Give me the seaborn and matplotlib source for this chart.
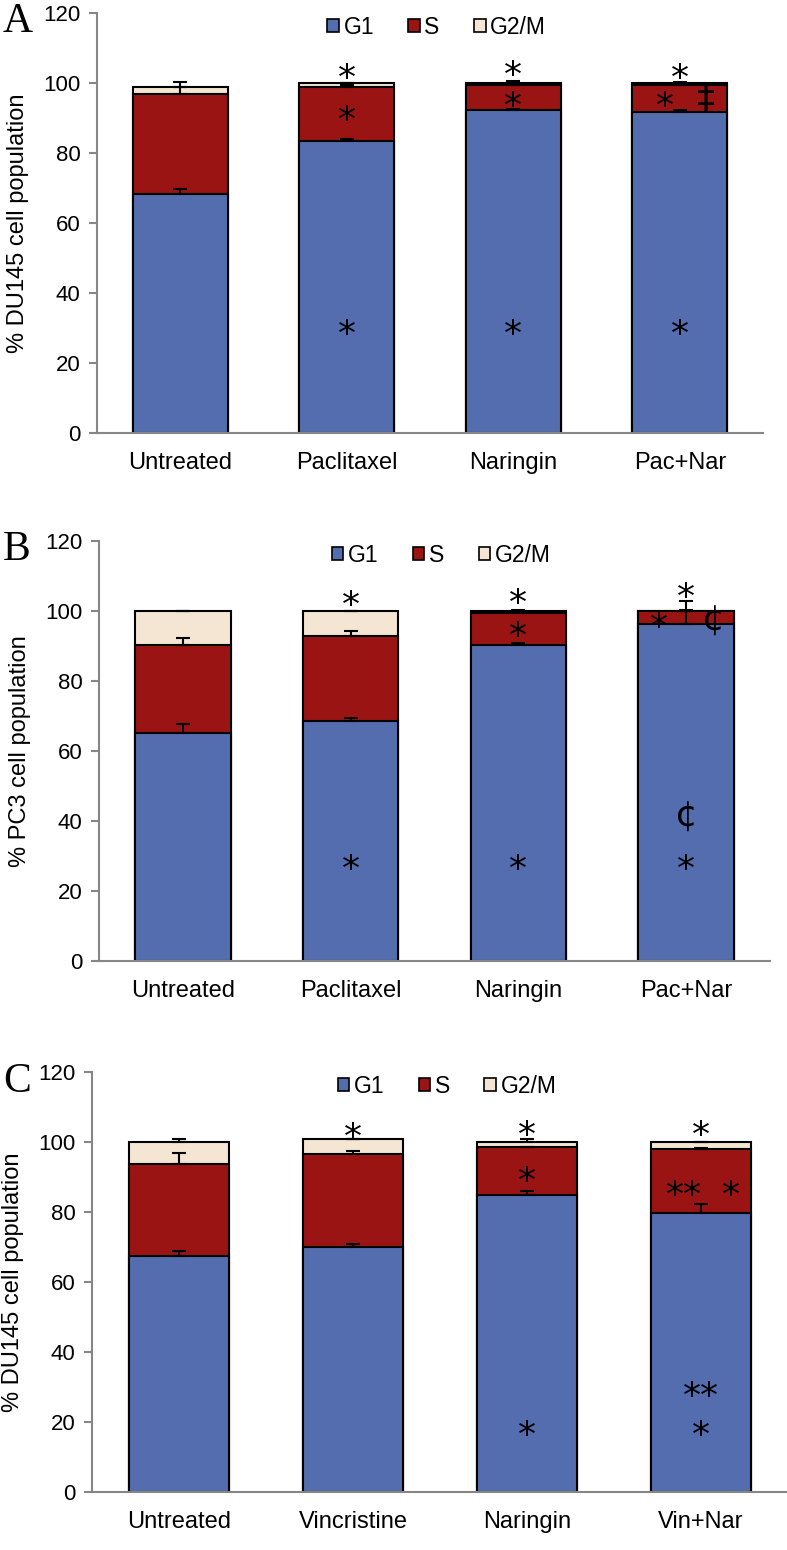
import pandas as pd
import matplotlib
matplotlib.use("Agg")
import matplotlib.pyplot as plt
from matplotlib.patches import Patch
from matplotlib.transforms import offset_copy
import seaborn as sns

sns.set_style("white")
plt.rcParams["font.family"] = ["Liberation Sans", "DejaVu Sans"]
plt.rcParams["text.color"] = "black"
plt.rcParams["axes.labelcolor"] = "black"
plt.rcParams["xtick.color"] = "black"
plt.rcParams["ytick.color"] = "black"

# phases and colours
phases = ["G1", "S", "G2/M"]
colors = ["#546DAE", "#9B1414", "#F5E6D4"]

# Panel A - DU145, paclitaxel
cats_a = ["Untreated", "Paclitaxel", "Naringin", "Pac+Nar"]
g1_a = [68.3, 83.3, 92.2, 91.6]
s_a = [28.5, 15.5, 7.2, 7.8]
g2m_a = [2.1, 1.2, 0.6, 0.6]
err_g1_a = [1.3, 0.6, 0.5, 0.6]
err_s_a = [3.5, 0.5, 0.4, 0.3]
err_g2m_a = [0.0, 0.0, 0.5, 0.3]

# Panel B - PC3, paclitaxel
cats_b = ["Untreated", "Paclitaxel", "Naringin", "Pac+Nar"]
g1_b = [65.2, 68.5, 90.4, 96.2]
s_b = [25.2, 24.4, 8.9, 3.7]
g2m_b = [9.6, 7.1, 0.7, 0.1]
err_g1_b = [2.5, 1.0, 0.5, 6.6]
err_s_b = [2.0, 1.4, 0.5, 0.3]
err_g2m_b = [0.0, 0.0, 0.3, 0.0]

# Panel C - DU145, vincristine
cats_c = ["Untreated", "Vincristine", "Naringin", "Vin+Nar"]
g1_c = [67.5, 70.0, 85.0, 79.8]
s_c = [26.1, 26.7, 13.6, 18.1]
g2m_c = [6.4, 4.1, 1.4, 2.1]
err_g1_c = [1.5, 1.0, 1.1, 2.4]
err_s_c = [3.2, 0.6, 0.0, 0.5]
err_g2m_c = [0.8, 0.0, 0.8, 0.0]

# significance marks: (bar index, shift, y, symbol)
marks_a = [(1, 0, 104, "*"), (1, 0, 92, "*"), (1, 0, 31, "*"),
           (2, 0, 105, "*"), (2, 0, 96, "*"), (2, 0, 31, "*"),
           (3, 0, 104, "*"), (3, -0.09, 96, "*"), (3, 0.16, 96, "‡"), (3, 0, 31, "*")]
marks_b = [(1, 0, 104.3, "*"), (1, 0, 29, "*"),
           (2, 0, 105, "*"), (2, 0, 95.5, "*"), (2, 0, 29, "*"),
           (3, 0, 106.5, "*"), (3, -0.16, 98, "*"), (3, 0.16, 97.5, "¢"),
           (3, 0, 41.5, "¢"), (3, 0, 29, "*")]
marks_c = [(1, 0, 104, "*"),
           (2, 0, 104.5, "*"), (2, 0, 91.5, "*"), (2, 0, 19, "*"),
           (3, 0, 104.5, "*"), (3, -0.1, 87.5, "**"), (3, 0.17, 87.5, "*"),
           (3, 0, 30, "**"), (3, 0, 19, "*")]

panels = [
    ("A", "% DU145 cell population", cats_a, g1_a, s_a, g2m_a,
     err_g1_a, err_s_a, err_g2m_a, marks_a, [97, 433, 763]),
    ("B", "% PC3 cell population", cats_b, g1_b, s_b, g2m_b,
     err_g1_b, err_s_b, err_g2m_b, marks_b, [99, 961, 770]),
    ("C", "% DU145 cell population", cats_c, g1_c, s_c, g2m_c,
     err_g1_c, err_s_c, err_g2m_c, marks_c, [92, 1492, 788]),
]

W, H = 787, 1550
fig = plt.figure(figsize=(W / 100, H / 100), dpi=100)

sym_shift = {"*": 0.56, "**": 0.56, "‡": 0.32, "¢": 0.30}

for letter, ylabel, cats, g1, s, g2m, e1, e2, e3, marks, box in panels:
    left, bottom, right = box
    ax = fig.add_axes([left / W, 1 - bottom / H, (right - left) / W, 420 / H])

    df = pd.DataFrame({"cat": cats, "G1": g1, "S": s, "G2/M": g2m})
    df["top_s"] = df["G1"] + df["S"]
    df["top"] = df["top_s"] + df["G2/M"]

    # stacked bars: draw the cumulative heights from the tallest down
    for col, c in [("top", colors[2]), ("top_s", colors[1]), ("G1", colors[0])]:
        sns.barplot(data=df, x="cat", y=col, color=c, saturation=1,
                    edgecolor="black", linewidth=1.5, width=0.57,
                    errorbar=None, ax=ax)

    xs = list(range(len(cats)))
    for ytop, err in [(df["G1"], e1), (df["top_s"], e2), (df["top"], e3)]:
        ax.errorbar(xs, ytop, yerr=[[0] * len(err), err], fmt="none",
                    ecolor="black", elinewidth=1.5, capsize=5, capthick=1.5,
                    zorder=5)

    for i, dx, y, sym in marks:
        fs = 26
        tr = offset_copy(ax.transData, fig=fig, y=-sym_shift[sym] * fs, units="points")
        ax.text(i + dx, y, sym, ha="center", va="baseline", fontsize=fs,
                family="DejaVu Sans", color="black", transform=tr, zorder=6)

    ax.set_ylim(0, 120)
    ax.set_xlim(-0.5, len(cats) - 0.5)
    ax.set_yticks(range(0, 121, 20))
    ax.set_xlabel("")
    ax.set_ylabel(ylabel, fontsize=17, labelpad=10)
    for sp in ["top", "right"]:
        ax.spines[sp].set_visible(False)
    for sp in ["left", "bottom"]:
        ax.spines[sp].set_color("#868686")
        ax.spines[sp].set_linewidth(1.5)
    ax.tick_params(axis="y", left=True, length=6, width=1.5, color="#868686",
                   labelcolor="black", labelsize=16, pad=6)
    ax.tick_params(axis="x", length=0, labelcolor="black", labelsize=17, pad=14)

    handles = [Patch(facecolor=c, edgecolor="black", linewidth=1.2, label=p)
               for p, c in zip(phases, colors)]
    ax.legend(handles=handles, ncol=3, loc="upper center",
              bbox_to_anchor=(0.51, 1.015), borderaxespad=0, frameon=False,
              fontsize=16.5, handlelength=0.5, handleheight=0.5,
              handletextpad=0.2, columnspacing=1.5)

    fig.text(3 / W, 1 - (bottom - 430) / H, letter, fontsize=30,
             family="Liberation Serif", va="top", ha="left")

fig.savefig("out.png", dpi=100)
